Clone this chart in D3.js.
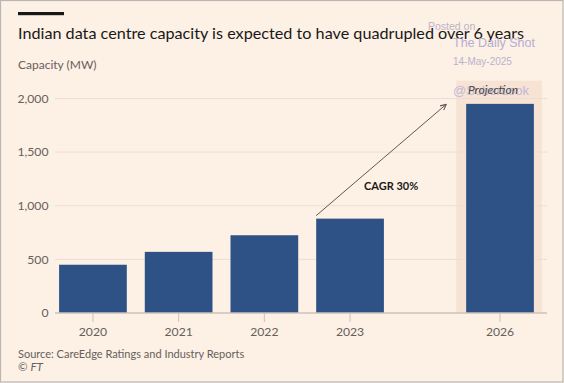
<!DOCTYPE html>
<html><head><meta charset="utf-8">
<script src="https://cdn.jsdelivr.net/npm/d3@7"></script>
<style>
html,body{margin:0;padding:0;background:#fdf0e5;}
svg{display:block;}
text{font-family:"Lato","Liberation Sans",sans-serif;}
text.wm{font-family:"Liberation Sans",sans-serif;}
</style></head>
<body>
<script>
const categories = ["2020","2021","2022","2023","2026"];
const values = [450, 570, 725, 880, 1950];
const yTicks = [0, 500, 1000, 1500, 2000];
const projected = ["2026"];
const title = "Indian data centre capacity is expected to have quadrupled over 6 years";
const subtitle = "Capacity (MW)";
const source = "Source: CareEdge Ratings and Industry Reports";
const cagrLabel = "CAGR 30%";

const W = 564, H = 383;
const svg = d3.select("body").append("svg").attr("width", W).attr("height", H);
svg.append("rect").attr("x",0.5).attr("y",0.5).attr("width",W-1.5).attr("height",H-1.5)
  .attr("fill","#fdf0e5").attr("stroke","#b9b6b4").attr("stroke-width",1.2);

const plotL = 55, plotR = 547;
const y = d3.scaleLinear().domain([0, 2000]).range([313, 98.5]);

const actual = categories.filter(c => !projected.includes(c));
const band = d3.scaleBand().domain(actual).range([50.1, 50.1 + 4*85.7]).paddingInner(0.21).paddingOuter(0.105);
const step = band.step(), bw = band.bandwidth();
const x = c => projected.includes(c) ? band(actual[actual.length-1]) + 1.75*step : band(c);

// top rule
svg.append("rect").attr("x",18).attr("y",12).attr("width",46).attr("height",3.2).attr("fill","#1a1817");
svg.append("text").attr("x",18).attr("y",38.5).attr("font-size",16.2).attr("fill","#1a1817").text(title);
svg.append("text").attr("x",18).attr("y",68.5).attr("font-size",12).attr("fill","#66605c").text(subtitle);

// projection shade
projected.forEach(c => {
  svg.append("rect").attr("x", x(c)-10).attr("y", 80.7).attr("width", bw+18).attr("height", y(0)-80.7)
    .attr("fill","#f6e3d3");
});

// gridlines
svg.append("g").selectAll("line").data(yTicks.filter(d=>d>0)).join("line")
  .attr("x1",plotL).attr("x2",plotR).attr("y1",d=>y(d)).attr("y2",d=>y(d))
  .attr("stroke","#ebdfd5").attr("stroke-width",1);
svg.append("g").selectAll("text").data(yTicks).join("text")
  .attr("x",48.5).attr("y",d=>y(d)).attr("dy","0.35em").attr("text-anchor","end")
  .attr("font-size",12.2).attr("fill","#66605c").text(d=>d3.format(",")(d));

// bars
svg.append("g").selectAll("rect").data(categories).join("rect")
  .attr("x",(d)=>x(d)).attr("width",bw)
  .attr("y",(d,i)=>y(values[i])).attr("height",(d,i)=>y(0)-y(values[i]))
  .attr("fill","#2e5285");

// axis
svg.append("line").attr("x1",plotL).attr("x2",plotR).attr("y1",y(0)).attr("y2",y(0))
  .attr("stroke","#cdc2b9").attr("stroke-width",1.3);
svg.append("g").selectAll("line").data(categories).join("line")
  .attr("x1",d=>x(d)+bw/2).attr("x2",d=>x(d)+bw/2).attr("y1",y(0)).attr("y2",y(0)+9)
  .attr("stroke","#cdc2b9").attr("stroke-width",1);
svg.append("g").selectAll("text").data(categories).join("text")
  .attr("x",d=>x(d)+bw/2).attr("y",332).attr("dy","0.35em").attr("text-anchor","middle")
  .attr("font-size",12.2).attr("fill","#66605c").text(d=>d);

// arrow
const defs = svg.append("defs");
defs.append("marker").attr("id","ah").attr("viewBox","0 0 10 10").attr("refX",9).attr("refY",5)
  .attr("markerWidth",7).attr("markerHeight",7).attr("markerUnits","userSpaceOnUse").attr("orient","auto")
  .append("path").attr("d","M1,1 L9,5 L1,9").attr("fill","none").attr("stroke","#5c5957").attr("stroke-width",1.6);
const a0 = [x("2023"), y(values[3]) - 3];
const a1 = [x("2026") - 20, y(values[4]) + 0.5];
svg.append("line").attr("x1",a0[0]).attr("y1",a0[1]).attr("x2",a1[0]).attr("y2",a1[1])
  .attr("stroke","#5c5957").attr("stroke-width",1).attr("marker-end","url(#ah)");
svg.append("text").attr("x",(a0[0]+a1[0])/2+10).attr("y",(a0[1]+a1[1])/2+26).attr("dy","0.35em")
  .attr("text-anchor","middle").attr("font-size",11).attr("font-weight","bold").attr("fill","#1a1817").text(cagrLabel);

// watermark
svg.append("text").attr("class","wm").attr("x",428).attr("y",30).attr("font-size",10.5).attr("fill","#b3aac3").attr("opacity",0.85).text("Posted on");
svg.append("text").attr("class","wm").attr("x",453).attr("y",47).attr("font-size",12.5).attr("fill","#b6add2").text("The Daily Shot");
svg.append("text").attr("class","wm").attr("x",453).attr("y",64.5).attr("font-size",10).attr("fill","#bab2cc").text("14-May-2025");
svg.append("text").attr("class","wm").attr("x",453).attr("y",94.5).attr("font-size",13).attr("fill","#c2b9d8").text("@SoberLook");

// projection label
svg.append("text").attr("x",x("2026")+bw/2-7).attr("y",90).attr("dy","0.35em").attr("text-anchor","middle")
  .attr("font-size",12).attr("font-style","italic").attr("fill","#4a4644").text("Projection");

// source
svg.append("text").attr("x",18).attr("y",354).attr("dy","0.35em").attr("font-size",11).attr("fill","#66605c").text(source);
const ft = svg.append("text").attr("x",18).attr("y",367).attr("dy","0.35em").attr("font-size",11.5).attr("fill","#66605c");
ft.append("tspan").text("© ");
ft.append("tspan").attr("font-style","italic").text("FT");
</script>
</body></html>
